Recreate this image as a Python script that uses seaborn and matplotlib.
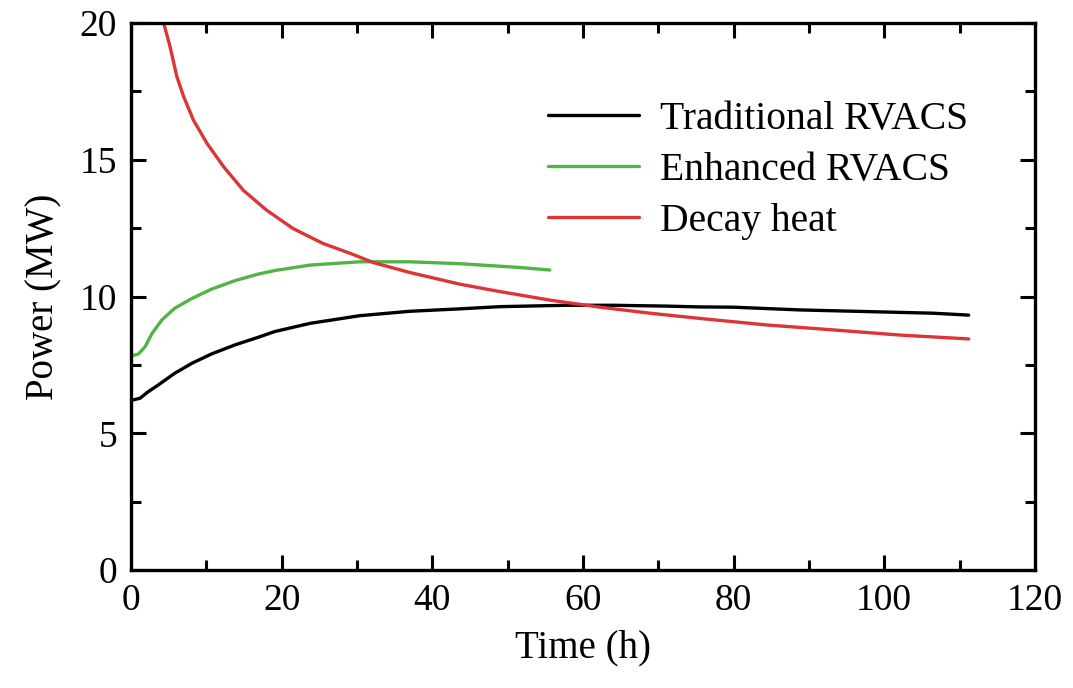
import numpy as np
import pandas as pd
import matplotlib
matplotlib.use('Agg')
import matplotlib.pyplot as plt
import seaborn as sns
from matplotlib.ticker import MultipleLocator

# data
trad_t = [0.0, 1.2, 2.3, 3.6, 5.8, 8.1, 10.7, 13.8, 16.9, 19.1, 23.8, 30.4, 37.0, 43.7,
          49.0, 57.8, 64.0, 71.1, 75.5, 80.0, 88.8, 97.7, 106.5, 111.2]
trad_p = [6.20, 6.28, 6.52, 6.76, 7.19, 7.56, 7.90, 8.23, 8.51, 8.72, 9.02, 9.30, 9.46, 9.55,
          9.63, 9.68, 9.68, 9.65, 9.62, 9.61, 9.51, 9.45, 9.39, 9.32]

enh_t = [0.0, 1.0, 1.9, 2.8, 4.1, 5.8, 8.1, 10.7, 13.8, 16.9, 19.1, 23.8, 30.4, 37.0,
         43.7, 51.2, 55.6]
enh_p = [7.82, 7.90, 8.17, 8.65, 9.14, 9.57, 9.93, 10.27, 10.58, 10.82, 10.95, 11.15, 11.27,
         11.27, 11.20, 11.07, 10.97]

decay_t = [4.0, 4.3, 5.2, 6.1, 7.0, 8.3, 10.1, 12.3, 14.9, 18.0, 21.5, 25.5, 29.1, 32.2,
           37.0, 43.7, 49.0, 55.6, 62.3, 68.9, 75.5, 84.4, 93.2, 102.1, 111.2]
decay_p = [20.4, 20.05, 19.13, 18.04, 17.31, 16.45, 15.60, 14.75, 13.89, 13.16, 12.49, 11.94,
           11.58, 11.24, 10.88, 10.45, 10.18, 9.87, 9.61, 9.39, 9.20, 8.96, 8.78, 8.59, 8.45]

labels = ['Traditional RVACS', 'Enhanced RVACS', 'Decay heat']
colors = ['#000000', '#52b447', '#dd3535']

df = pd.concat([
    pd.DataFrame({'t': trad_t, 'p': trad_p, 'case': labels[0]}),
    pd.DataFrame({'t': enh_t, 'p': enh_p, 'case': labels[1]}),
    pd.DataFrame({'t': decay_t, 'p': decay_p, 'case': labels[2]}),
])

sns.set_style('ticks')
plt.rcParams['font.family'] = ['Liberation Serif', 'DejaVu Serif']
plt.rcParams['text.color'] = 'black'
plt.rcParams['axes.labelcolor'] = 'black'

fig = plt.figure(figsize=(10.73, 6.88), dpi=100)
ax = fig.add_axes([0.122, 0.1715, 0.8425, 0.795])

sns.lineplot(data=df, x='t', y='p', hue='case', palette=dict(zip(labels, colors)),
             estimator=None, sort=False, linewidth=2.4, ax=ax)

ax.set_xlim(0, 120)
ax.set_ylim(0, 20)
ax.xaxis.set_major_locator(MultipleLocator(20))
ax.xaxis.set_minor_locator(MultipleLocator(10))
ax.yaxis.set_major_locator(MultipleLocator(5))
ax.yaxis.set_minor_locator(MultipleLocator(2.5))
ax.tick_params(which='both', direction='in', top=True, right=True, width=2.2,
               labelsize=27, colors='black', pad=10)
ax.tick_params(which='major', length=11)
ax.tick_params(which='minor', length=7)
for s in ax.spines.values():
    s.set_linewidth(2.4)
    s.set_color('black')

ax.set_xlabel('Time (h)', fontsize=28, labelpad=8)
ax.set_ylabel('Power (MW)', fontsize=28, labelpad=12)

leg = ax.legend(loc='upper left', bbox_to_anchor=(0.461, 0.857), frameon=False,
                fontsize=28.5, handlelength=2.3, handletextpad=0.55,
                labelspacing=0.35, borderpad=0, borderaxespad=0)
for line in leg.get_lines():
    line.set_linewidth(2.4)

fig.savefig('out.png', dpi=100)
